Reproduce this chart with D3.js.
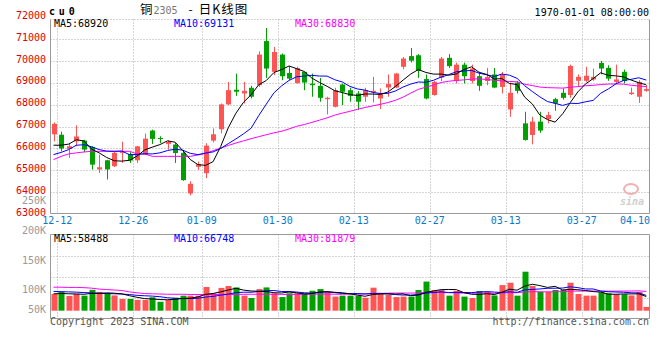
<!DOCTYPE html>
<html><head><meta charset="utf-8">
<script src="https://cdn.jsdelivr.net/npm/d3@7"></script>
<style>
body{margin:0;background:#fff}
svg{display:block}
text{font-family:"DejaVu Sans Mono",monospace;font-size:10px}
</style>
</head><body>
<svg id="c" width="660" height="360"></svg>
<script>
// ---------------- data ----------------
const dates = ["12-12","12-13","12-14","12-15","12-16","12-19","12-20","12-21","12-22","12-23","12-26","12-27","12-28","12-29","12-30",
"01-03","01-04","01-05","01-06","01-09","01-10","01-11","01-12","01-13","01-16","01-17","01-18","01-19","01-20","01-30","01-31",
"02-01","02-02","02-03","02-06","02-07","02-08","02-09","02-10","02-13","02-14","02-15","02-16","02-17","02-20","02-21","02-22","02-23","02-24","02-27","02-28",
"03-01","03-02","03-03","03-06","03-07","03-08","03-09","03-10","03-13","03-14","03-15","03-16","03-17","03-20","03-21","03-22","03-23","03-24","03-27","03-28","03-29","03-30","03-31",
"04-03","04-04","04-06","04-07","04-10"];

const open  = [66650,66630,65980,66330,66360,66070,65040,65460,65190,65800, 65750,65460,65720,66820,66480,66210,66180,65800,63940,65160,
               64870,66360,66880,68020,68690,68520,68780,68900,70920,69510, 70300,69460,68990,69510,68970,68870,68260,67910,68930,68670,
               68520,68370,68580,68290,68790,68790,69740,70230,70270,69180, 68450,69240,70150,69090,69840,69090,69310,69090,69390,68820,
               67790,69010,67150,66620,67230,67350,68260,68550,68450,69100, 69100,69160,69920,69690,69050,69510,68490,68370,68640];
const high  = [67190,66770,66250,67060,66400,66100,65720,65480,65870,66310, 65830,66120,66680,66860,66560,66370,66250,65870,64500,65400,
               66240,66920,68060,69050,69430,69050,68870,70450,71520,70650, 70350,69770,69750,69510,69430,69230,68370,68780,68970,68780,
               68630,68780,69280,68750,69390,69460,70190,70600,70320,69390, 69090,70190,70320,69930,69930,69840,69510,69690,69690,69510,
               69020,69090,67680,67450,67680,67680,68320,68750,69840,69390, 69740,69660,70010,69810,69840,69610,68790,69130,68900];
const low   = [66330,65870,65570,66100,65830,65030,64880,64580,65150,65340, 65340,65340,65700,66210,66250,65950,65340,64520,63850,65020,
               64640,66280,66690,67980,68410,68060,68290,68820,69230,69360, 69130,69130,68980,68670,68370,68140,67560,67880,67990,68140,
               67760,68140,68110,67810,68370,68760,69630,69940,69230,68250, 68420,69090,69690,68980,68980,68980,68640,68900,68760,68520,
               67450,68520,66360,66190,66720,67150,67730,68240,68320,68860, 69050,69100,69400,69100,68980,68980,68450,68090,68600];
const close = [67130,66000,66100,66550,65950,65260,65140,65040,65800,65870, 65450,66100,66450,66440,66450,66310,65790,64550,64380,65280,
               66130,66650,68020,68670,68600,68640,68370,70300,69660,70420, 69310,69200,69680,69020,68900,68320,68320,68670,68600,68410,
               68140,68670,68640,68520,68950,69430,70120,70020,69550,68290, 69050,70120,69770,69840,69310,69660,68870,69280,68790,69390,
               68550,68640,66390,67230,66820,67530,68060,68320,69780,69280, 69330,69280,69660,69200,69160,69090,68560,69050,68720];
const volume = [71000,80000,63000,72000,64000,89000,80000,74000,65000,50000,
                50000,46000,46000,57000,38000,46000,55000,64000,64000,64000,
                101000,74000,97000,105000,99000,64000,54000,92000,99000,74000,
                58000,74000,74000,74000,85000,92000,80000,60000,64000,64000,
                64000,55000,98000,75000,67000,58000,60000,60000,88000,124000,
                88000,88000,64000,84000,60000,54000,84000,80000,65000,109000,
                119000,64000,166000,105000,80000,80000,88000,88000,119000,71000,
                64000,64000,78000,74000,70000,70000,65000,80000,16000];

// moving-average values before enough history is on screen
const ma5Lead  = [66150,66150,66200,66400];
const ma10Lead = [65720,65820,65950,66150,66170,66080,65950,65880,65870];
const ma30Lead = [65490,65640,65750,65800,65840,65870,65870,65870,65870,65870,65870,65750,65750,65640,65640,
                  65640,65640,65640,65640,65700,65780,65900,66020,66140,66250,66350,66450,66540,66630];
const vma5Lead  = [72000,73000,72000,71000];
const vma10Lead = [82000,81000,80000,79000,77000,76000,74000,73000,72000];
const vma30Lead = [100000,100000,99000,99000,98000,96000,92000,90000,88000,86000,80000,76000,73000,72000,71000,
                   70000,70000,70000,69000,69000,69000,69000,69000,69000,69000,70000,70000,70000,70000];

const priceTicks = [63000,64000,65000,66000,67000,68000,69000,70000,71000,72000];
const volTickValues = [250000,200000,150000,100000,50000];
const volTickLabels = ["250K","200K","150K","100K","50K"];
const xTickLabels = ["12-12","12-26","01-09","01-30","02-13","02-27","03-13","03-27","04-10"];
const priceMAHeader = [68920,69131,68830];
const volMAHeader = [58488,66748,81879];
const symbol = "cu0";
const timeStamp = "1970-01-01 08:00:00";

// ---------------- helpers ----------------
function movingAvg(vals, n, lead){
  return vals.map((v,i)=> i < n-1 ? lead[i] : d3.mean(vals.slice(i-n+1,i+1)));
}
const ma5 = movingAvg(close,5,ma5Lead), ma10 = movingAvg(close,10,ma10Lead), ma30 = movingAvg(close,30,ma30Lead);
const vma5 = movingAvg(volume,5,vma5Lead), vma10 = movingAvg(volume,10,vma10Lead), vma30 = movingAvg(volume,30,vma30Lead);

// ---------------- layout ----------------
const svg = d3.select("#c");
svg.append("rect").attr("width",660).attr("height",360).attr("fill","#fff");
const L = 50.5, R = 649.5;
const pTop = 19.5, pBot = 213.5, vTop = 234.5, vBot = 318.5;
const RED = "#ff5454", GREEN = "#00a000", GRID = "#aaa", AXIS = "#999";

const x = d3.scaleBand().domain(dates).range([49.7, 650.1]).padding(0);
const bw = x.bandwidth();
const cx = i => x(dates[i]) + bw/2;
const y = d3.scaleLinear().domain([63000,71000]).range([214,39.3]);
const yv = d3.scaleLinear().domain([0,100000]).range([310.7,287.2]);
const yvLab = d3.scaleLinear().domain([250000,200000,150000,100000,50000]).range([204,234,264.3,293.3,313.3]);

const grid = svg.append("g").attr("fill","none");
priceTicks.filter(v=>v>63000 && v<72000).forEach(v=>{
  const yy = Math.round(y(v))+0.5;
  grid.append("line").attr("x1",L).attr("x2",R).attr("y1",yy).attr("y2",yy)
    .attr("stroke",GRID).attr("stroke-dasharray","1,2");
});
d3.range(1,4).forEach(i=>{
  const yy = Math.round(vTop + (vBot-vTop)*i/4)+0.5;
  grid.append("line").attr("x1",L).attr("x2",R).attr("y1",yy).attr("y2",yy)
    .attr("stroke",GRID).attr("stroke-dasharray","1,2");
});
const gx = lab => x(lab) + bw;
xTickLabels.slice(0,-1).forEach(lab=>{
  const xx = Math.round(gx(lab))+0.5;
  [[pTop,pBot],[vTop,vBot]].forEach(([a,b])=>{
    grid.append("line").attr("x1",xx).attr("x2",xx).attr("y1",a).attr("y2",b)
      .attr("stroke",GRID).attr("stroke-dasharray","1,2");
  });
});
grid.append("line").attr("x1",L).attr("x2",R).attr("y1",pTop).attr("y2",pTop).attr("stroke",GRID).attr("stroke-dasharray","1,2");
grid.append("path").attr("d",`M${L},${pTop}V${pBot}H${R}V${pTop}`).attr("stroke",AXIS);
grid.append("path").attr("d",`M${L},${vTop}H${R}V${vBot}H${L}Z`).attr("stroke",AXIS);

// ---------------- candles ----------------
const cg = svg.append("g");
dates.forEach((d,i)=>{
  const up = close[i] >= open[i];
  const col = up ? RED : GREEN;
  const x0 = Math.round(cx(i)) - 3;
  cg.append("line").attr("x1",x0+3.5).attr("x2",x0+3.5)
    .attr("y1",y(high[i])).attr("y2",y(low[i])).attr("stroke",col);
  const top = y(Math.max(open[i],close[i])), bot = y(Math.min(open[i],close[i]));
  cg.append("rect").attr("x",x0+1).attr("width",5).attr("y",top).attr("height",Math.max(1,bot-top)).attr("fill",col);
});

// ---------------- price MA lines ----------------
const pline = d3.line().x((d,i)=>cx(i)).y(d=>y(d));
[[ma30,"#ff00ff"],[ma10,"#0000ff"],[ma5,"#000"]].forEach(([arr,c])=>{
  svg.append("path").attr("d",pline(arr)).attr("fill","none").attr("stroke",c).attr("stroke-width",1);
});

// ---------------- volume ----------------
const vg = svg.append("g");
dates.forEach((d,i)=>{
  const up = close[i] >= open[i];
  const x0 = Math.round(cx(i)) - 3;
  vg.append("rect").attr("x",x0+0.5).attr("width",6).attr("y",yv(volume[i]))
    .attr("height",yv(0)-yv(volume[i])).attr("fill",up?RED:GREEN);
});
const vline = d3.line().x((d,i)=>cx(i)).y(d=>yv(d));
[[vma30,"#ff00ff"],[vma10,"#0000ff"],[vma5,"#000"]].forEach(([arr,c])=>{
  svg.append("path").attr("d",vline(arr)).attr("fill","none").attr("stroke",c).attr("stroke-width",1);
});

// ---------------- texts ----------------
const t = svg.append("g");
priceTicks.forEach(v=>{
  t.append("text").attr("x",46).attr("y",y(v)+1.5).attr("text-anchor","end").attr("fill","#e00000").text(v);
});
volTickValues.forEach((v,i)=>{
  t.append("text").attr("x",46).attr("y",yvLab(v)).attr("text-anchor","end").attr("fill","#999").text(volTickLabels[i]);
});
xTickLabels.forEach(lab=>{
  const g = Math.min(gx(lab), 650-15);
  t.append("text").attr("x",g).attr("y",224).attr("text-anchor","middle").attr("fill","#0a78c8").text(lab);
});
t.append("text").attr("x",49).attr("y",15).attr("font-weight","bold").attr("font-size","12px")
  .attr("letter-spacing","3.8px").attr("fill","#000").text(symbol);
const title = t.append("text").attr("x",140).attr("y",14).attr("fill","#000");
title.append("tspan").attr("font-family","'Noto Sans CJK SC',sans-serif").attr("font-size","12.5px").text("铜");
title.append("tspan").attr("fill","#777").attr("font-size","10px").attr("dx",1).text("2305");
title.append("tspan").attr("font-family","'Noto Sans CJK SC',sans-serif").attr("font-size","12px").attr("dx",11).text("-");
title.append("tspan").attr("font-family","'Noto Sans CJK SC',sans-serif").attr("font-size","12.5px").attr("dx",6).attr("letter-spacing","1px").text("日K线图");
t.append("text").attr("x",649).attr("y",15.5).attr("text-anchor","end").attr("fill","#000").text(timeStamp);
const maCols = ["#000","#0000ff","#ff00ff"], maNames = ["MA5","MA10","MA30"], maX = [54,174,295];
maNames.forEach((n,i)=>{
  t.append("text").attr("x",maX[i]).attr("y",27).attr("fill",maCols[i]).text(`${n}:${priceMAHeader[i]}`);
  t.append("text").attr("x",maX[i]).attr("y",242).attr("fill",maCols[i]).text(`${n}:${volMAHeader[i]}`);
});
t.append("text").attr("x",50).attr("y",325).attr("fill","#555").text("Copyright 2023 SINA.COM");
t.append("text").attr("x",649).attr("y",325).attr("text-anchor","end").attr("fill","#555").text("http://finance.sina.com.cn");
t.append("ellipse").attr("cx",631).attr("cy",189).attr("rx",7).attr("ry",5)
  .attr("fill","none").attr("stroke","#f2b0b0").attr("stroke-width",2);
t.append("text").attr("x",620).attr("y",205).attr("font-family","'DejaVu Sans',sans-serif")
  .attr("font-style","italic").attr("font-weight","bold").attr("font-size","15px").attr("fill","#cfcfcf").text("sina");
</script>
</body></html>
